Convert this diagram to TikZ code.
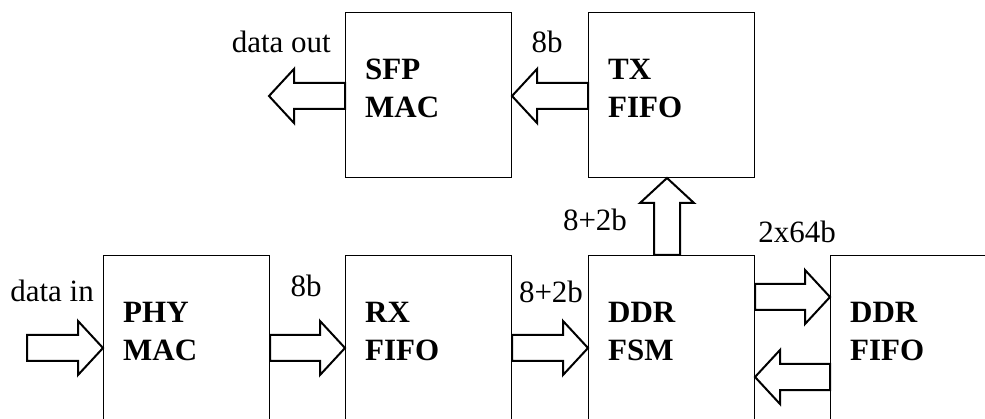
\documentclass[tikz,border=0pt]{standalone}
\usepackage{fontspec}
\setmainfont{Liberation Serif}
\usetikzlibrary{calc}
\newcommand{\diagfont}{\fontsize{31}{37.5}\selectfont}
\tikzset{
  blk/.style={draw, line width=1pt, minimum width=166pt, minimum height=165pt, anchor=north west, inner sep=0pt},
  blkname/.style={font=\diagfont\bfseries, align=left, anchor=base west, inner sep=0pt},
  buswidth/.style={anchor=base, inner sep=0pt},
  fat/.style={draw, line width=2pt, line join=miter, fill=white}
}
% hollow block arrow from #1 to #2
\newcommand{\fatarrow}[2]{%
  \draw[fat] let \p1=($(#2)-(#1)$), \n1={veclen(\x1,\y1)}, \n2={atan2(\y1,\x1)}, \n3={\n1-25pt} in
    ($(#1)+(\n2+90:13pt)$) -- ($(#1)+(\n2:\n3)+(\n2+90:13pt)$)
    -- ($(#1)+(\n2:\n3)+(\n2+90:27pt)$) -- (#2)
    -- ($(#1)+(\n2:\n3)+(\n2-90:27pt)$) -- ($(#1)+(\n2:\n3)+(\n2-90:13pt)$)
    -- ($(#1)+(\n2-90:13pt)$) -- cycle;}
\begin{document}
\begin{tikzpicture}[x=1pt, y=-1pt, font=\diagfont]
\useasboundingbox (0,0) rectangle (985,419);
\clip (0,0) rectangle (985,419);
% blocks
\node[blk] (sfp) at (345,12) {};
\node[blk] (txfifo) at (588,12) {};
\node[blk, minimum height=185pt] (phy) at (103,255) {};
\node[blk, minimum height=185pt] (rxfifo) at (345,255) {};
\node[blk, minimum height=185pt] (ddrfsm) at (588,255) {};
\node[blk, minimum height=185pt] (ddrfifo) at (830,255) {};
\node[blkname] at ($(sfp.north west)+(20,105.5)$) {SFP\\MAC};
\node[blkname] at ($(txfifo.north west)+(20,105.5)$) {TX\\FIFO};
\node[blkname] at ($(phy.north west)+(20,105.5)$) {PHY\\MAC};
\node[blkname] at ($(rxfifo.north west)+(20,105.5)$) {RX\\FIFO};
\node[blkname] at ($(ddrfsm.north west)+(20,105.5)$) {DDR\\FSM};
\node[blkname] at ($(ddrfifo.north west)+(20,105.5)$) {DDR\\FIFO};
% arrow levels
\coordinate (din) at (27,348);
\coordinate (dout) at (269,96);
\coordinate (wrlvl) at (0,297);
\coordinate (rdlvl) at (0,377);
\coordinate (uplvl) at (667,0);
\fatarrow{din}{phy.west |- din}
\fatarrow{phy.east |- din}{rxfifo.west |- din}
\fatarrow{rxfifo.east |- din}{ddrfsm.west |- din}
\fatarrow{ddrfsm.east |- wrlvl}{ddrfifo.west |- wrlvl}
\fatarrow{ddrfifo.west |- rdlvl}{ddrfsm.east |- rdlvl}
\fatarrow{ddrfsm.north -| uplvl}{txfifo.south -| uplvl}
\fatarrow{txfifo.west |- dout}{sfp.east |- dout}
\fatarrow{sfp.west |- dout}{dout}
% bus labels
\node[buswidth, anchor=base east] (lblout) at (331,53) {data out};
\node[buswidth] (lbltx) at (547,53) {8b};
\node[buswidth, anchor=base east] (lblin) at (94,302) {data in};
\node[buswidth] (lblrx) at (306,297) {8b};
\node[buswidth] (lblfsm) at (551,303) {8+2b};
\node[buswidth] (lblup) at (595,231) {8+2b};
\node[buswidth] (lblddr) at (797,243) {2x64b};
\end{tikzpicture}
\end{document}
